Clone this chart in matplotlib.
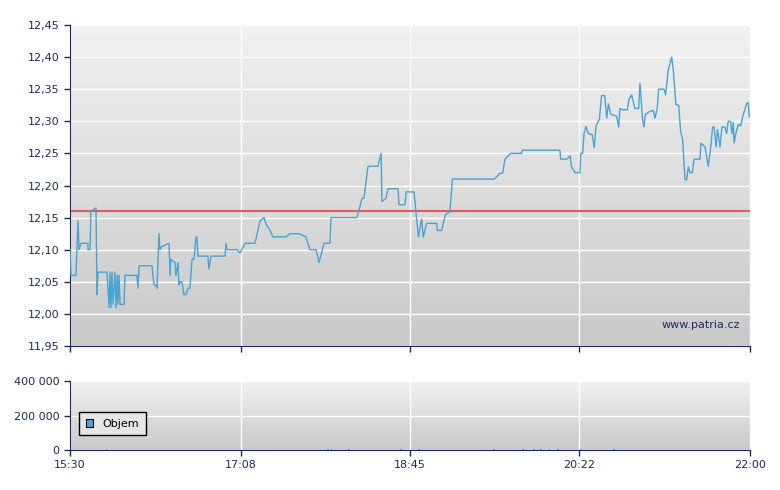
import numpy as np
import matplotlib.pyplot as plt
from matplotlib.ticker import FuncFormatter

# minutes since 15:30 and price
t = [0, 0.6, 3.4, 4.6, 5.2, 6.3, 10.3, 10.3, 11.5, 12.0, 14.9, 15.5, 16.1, 21.2, 22.4, 22.9,
     23.5, 24.1, 24.7, 25.8, 26.4, 27.0, 27.5, 28.1, 28.7, 31.0, 31.5, 38.4, 39.0, 39.6, 47.0,
     48.2, 49.3, 49.9, 51.0, 51.6, 52.8, 56.8, 57.4, 57.9, 60.2, 60.8, 61.9, 62.5, 63.1, 64.2,
     65.4, 66.5, 67.7, 68.8, 70.0, 71.1, 72.3, 72.8, 73.4, 79.1, 79.7, 80.9, 88.9, 89.5, 90.0,
     95.8, 97.5, 100.4, 106.1, 109.0, 111.3, 112.4, 114.7, 116.4, 123.9, 126.2, 131.3, 135.3,
     137.6, 141.1, 142.8, 145.7, 149.1, 149.7, 164.6, 167.5, 168.6, 170.9, 176.6, 178.4, 178.9,
     181.2, 182.4, 188.1, 188.7, 192.1, 192.8, 197.3,
     199.8, 201.7, 202.6, 204.5, 210.3, 210.7, 213.2, 214.1, 215.4, 217.9, 219.3, 243.3, 246.6,
     248.1, 249.5, 252.7, 259.0, 259.4, 281.0, 281.4, 284.9, 286.8, 287.7, 289.6, 292.5, 292.9,
     294.0, 294.8, 295.9, 297.3, 299.5, 300.7, 301.7, 303.6, 304.9, 306.7, 307.8, 308.8, 310.1,
     313.5, 314.7, 315.4, 317.0, 319.6, 320.6, 322.1, 324.0, 326.1, 326.9, 328.4, 329.2, 329.9,
     332.2, 334.5, 335.5, 336.8, 337.6, 340.7, 341.6, 343.1, 345.1, 346.0, 347.5, 349.1, 350.2,
     351.4, 352.7, 353.7, 354.6, 355.6, 356.9, 357.9, 361.3, 361.9, 364.2, 366.1, 367.5, 368.6,
     369.5, 370.5, 371.4, 372.8, 373.9, 375.6, 376.6, 377.5, 378.9, 379.6, 380.4, 380.9, 381.9,
     383.3, 384.6, 386.1, 388.1, 389.0, 389.6]
price = [12.10, 12.06, 12.06, 12.145, 12.10, 12.11, 12.11, 12.10, 12.10, 12.16, 12.165, 12.03,
         12.065, 12.065, 12.01, 12.065, 12.01, 12.065, 12.015, 12.065, 12.01, 12.06, 12.015,
         12.06, 12.015, 12.015, 12.06, 12.06, 12.04, 12.075, 12.075, 12.045, 12.045, 12.04,
         12.125, 12.10, 12.105, 12.11, 12.06, 12.085, 12.08, 12.06, 12.08, 12.045, 12.05, 12.05,
         12.03, 12.03, 12.04, 12.04, 12.085, 12.085, 12.12, 12.12, 12.09, 12.09, 12.07, 12.09,
         12.09, 12.11, 12.10, 12.10, 12.095, 12.11, 12.11, 12.145, 12.15, 12.14, 12.13, 12.12,
         12.12, 12.125, 12.125, 12.12, 12.10, 12.10, 12.08, 12.11, 12.11, 12.15, 12.15, 12.18,
         12.18, 12.23, 12.23, 12.25, 12.175, 12.18, 12.195, 12.195, 12.17, 12.17, 12.19, 12.19,
         12.12, 12.148, 12.12, 12.141, 12.141, 12.13, 12.13, 12.141, 12.155, 12.159, 12.21,
         12.21, 12.219, 12.219, 12.241, 12.25, 12.25, 12.255, 12.255, 12.241, 12.241, 12.246,
         12.229, 12.22, 12.22, 12.25, 12.25, 12.28, 12.292, 12.281, 12.279, 12.259, 12.293,
         12.303, 12.34, 12.34, 12.305, 12.327, 12.311, 12.308, 12.291, 12.32, 12.318, 12.318,
         12.334, 12.341, 12.32, 12.32, 12.359, 12.302, 12.291, 12.31, 12.315, 12.317, 12.305,
         12.32, 12.35, 12.35, 12.341, 12.38, 12.40, 12.38, 12.326, 12.325, 12.285, 12.271,
         12.209, 12.209, 12.229, 12.22, 12.22, 12.241, 12.241, 12.266, 12.26, 12.23, 12.26,
         12.291, 12.291, 12.26, 12.287, 12.26, 12.291, 12.291, 12.281, 12.30, 12.30, 12.281,
         12.298, 12.266, 12.281, 12.295, 12.293, 12.31, 12.328, 12.329, 12.307]
prev_close = 12.16

vol_t = [21, 148, 150, 160, 189, 190, 195, 200, 243, 260, 266, 270, 275, 280, 293, 298, 303, 312, 320, 345]
vol = [8000, 4000, 3000, 3000, 2000, 3000, 2000, 3000, 3000, 4000, 4000, 4000, 4000, 3000, 3000, 2000, 2000, 3000, 2000, 2000]

xticks = [0, 98, 195, 292, 390]
xlabels = ['15:30', '17:08', '18:45', '20:22', '22:00']

navy = '#1c2b5e'
line_c = '#4aa3d0'

fig = plt.figure(figsize=(7.8, 4.9), dpi=100)
ax = fig.add_axes([70/780, 1-346/490, 680/780, 321/490])
ax2 = fig.add_axes([70/780, 1-450/490, 680/780, 69/490])


def style(a, ylo, yhi):
    grad = np.linspace(0, 1, 256).reshape(-1, 1)
    a.imshow(grad, extent=[0, 390, ylo, yhi], aspect='auto', cmap=plt.matplotlib.colors.LinearSegmentedColormap.from_list('g', ['#f1f1f1', '#c9c9c9']), origin='upper', zorder=0)
    a.set_xlim(0, 390)
    a.set_ylim(ylo, yhi)
    a.set_xticks(xticks)
    a.grid(True, color='white', linewidth=1, zorder=1)
    for s in ['top', 'right']:
        a.spines[s].set_visible(False)
    for s in ['left', 'bottom']:
        a.spines[s].set_color(navy)
    a.tick_params(colors=navy, labelsize=8, length=4, width=1, labelcolor=navy)


style(ax, 11.95, 12.45)
ax.set_yticks(np.arange(11.95, 12.451, 0.05))
ax.yaxis.set_major_formatter(FuncFormatter(lambda v, p: f'{v:.2f}'.replace('.', ',')))
ax.set_xticklabels([])
ax.axhline(prev_close, color='#d66060', linewidth=1.5, zorder=2)
ax.plot(t, price, color=line_c, linewidth=1, zorder=3)
ax.text(0.985, 0.05, 'www.patria.cz', transform=ax.transAxes, ha='right', va='bottom', fontsize=8, color=navy, zorder=4)

style(ax2, 0, 400000)
ax2.set_yticks([0, 200000, 400000])
ax2.yaxis.set_major_formatter(FuncFormatter(lambda v, p: f'{int(v):,}'.replace(',', ' ')))
ax2.set_xticklabels(xlabels)
ax2.bar(vol_t, vol, width=1, color=line_c, zorder=3, label='Objem')
leg = ax2.legend(loc='upper left', bbox_to_anchor=(0.005, 0.63), fontsize=8, frameon=True, fancybox=False,
                 handlelength=0.7, handleheight=0.7, borderpad=0.6)
leg.get_frame().set_edgecolor('black')
leg.get_frame().set_facecolor('#e6e6e6')
leg.get_frame().set_alpha(1)
for h in leg.legend_handles:
    h.set_edgecolor('black')
    h.set_linewidth(0.8)

fig.savefig('out.png', dpi=100)
